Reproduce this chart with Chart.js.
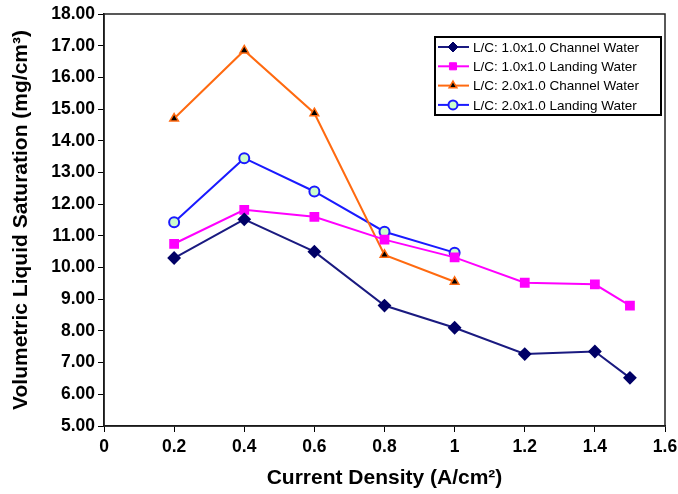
<!DOCTYPE html>
<html>
<head>
<meta charset="utf-8">
<script src="https://cdn.jsdelivr.net/npm/chart.js@4"></script>
<style>
  body { margin: 0; background: #fff; }
  #wrap { width: 678px; height: 494px; }
</style>
</head>
<body>
<div id="wrap"><canvas id="chart" width="678" height="494"></canvas></div>
<script>
// data
const currentDensity = [0.2, 0.4, 0.6, 0.8, 1.0, 1.2, 1.4, 1.5];
const channel1x1 = [10.30, 11.52, 10.50, 8.80, 8.10, 7.27, 7.35, 6.52];
const landing1x1 = [10.75, 11.82, 11.60, 10.88, 10.32, 9.52, 9.47, 8.80];
const channel2x1 = [14.70, 16.85, 14.87, 10.40, 9.55];
const landing2x1 = [11.43, 13.45, 12.40, 11.13, 10.47];
const seriesNames = [
    'L/C: 1.0x1.0 Channel Water',
    'L/C: 1.0x1.0 Landing Water',
    'L/C: 2.0x1.0 Channel Water',
    'L/C: 2.0x1.0 Landing Water',
];

function toPoints(xs, ys) {
    return ys.map((y, i) => ({ x: xs[i], y: y }));
}

const datasets = [
    {
        label: seriesNames[0],
        data: toPoints(currentDensity, channel1x1),
        borderColor: '#1a1a80',
        backgroundColor: '#000066',
        pointBackgroundColor: '#000066',
        pointBorderColor: '#000066',
        pointStyle: 'rectRot',
        pointRadius: 5.5,
        borderWidth: 2,
    },
    {
        label: seriesNames[1],
        data: toPoints(currentDensity, landing1x1),
        borderColor: '#ff00ff',
        backgroundColor: '#ff00ff',
        pointBackgroundColor: '#ff00ff',
        pointBorderColor: '#ff00ff',
        pointStyle: 'rect',
        pointRadius: 5.5,
        borderWidth: 2,
    },
    {
        label: seriesNames[2],
        data: toPoints(currentDensity, channel2x1),
        borderColor: '#ff6a10',
        backgroundColor: '#ff6a10',
        pointBackgroundColor: '#000000',
        pointBorderColor: '#ff6a10',
        pointBorderWidth: 1.5,
        pointStyle: 'triangle',
        pointRadius: 5,
        borderWidth: 2,
    },
    {
        label: seriesNames[3],
        data: toPoints(currentDensity, landing2x1),
        borderColor: '#1a1aff',
        backgroundColor: '#1a1aff',
        pointBackgroundColor: '#ccffcc',
        pointBorderColor: '#1a1aff',
        pointBorderWidth: 2,
        pointStyle: 'circle',
        pointRadius: 5,
        borderWidth: 2,
    },
];

// frame round the plot area
const frame = {
    id: 'frame',
    afterDraw(chart) {
        const a = chart.chartArea;
        const ctx = chart.ctx;
        ctx.save();
        ctx.strokeStyle = '#222';
        ctx.lineWidth = 1.5;
        ctx.strokeRect(a.left, a.top, a.right - a.left, a.bottom - a.top);
        ctx.restore();
    }
};

// boxed legend inside the plot, top right
const boxLegend = {
    id: 'boxLegend',
    afterDraw(chart) {
        const ctx = chart.ctx;
        const x0 = 435, y0 = 37, w = 226, h = 78;
        ctx.save();
        ctx.fillStyle = '#fff';
        ctx.fillRect(x0, y0, w, h);
        ctx.strokeStyle = '#000';
        ctx.lineWidth = 2;
        ctx.strokeRect(x0, y0, w, h);
        ctx.font = '13.5px "Liberation Sans", Arial, sans-serif';
        ctx.textBaseline = 'middle';
        chart.data.datasets.forEach((ds, i) => {
            const y = y0 + 10 + i * 19.3;
            ctx.strokeStyle = ds.borderColor;
            ctx.lineWidth = 2;
            ctx.beginPath();
            ctx.moveTo(x0 + 3, y);
            ctx.lineTo(x0 + 34, y);
            ctx.stroke();
            ctx.fillStyle = ds.pointBackgroundColor;
            ctx.strokeStyle = ds.pointBorderColor;
            ctx.lineWidth = ds.pointBorderWidth || 1;
            Chart.helpers.drawPoint(ctx, { pointStyle: ds.pointStyle, radius: ds.pointRadius - 0.5, borderWidth: ds.pointBorderWidth || 1 }, x0 + 18, y);
            ctx.fillStyle = '#000';
            ctx.fillText(ds.label, x0 + 38, y + 1);
        });
        ctx.restore();
    }
};

const tickFont = { family: '"Liberation Sans", Arial, sans-serif', size: 17.5, weight: 'bold' };
const titleFont = { family: '"Liberation Sans", Arial, sans-serif', size: 21, weight: 'bold' };

new Chart(document.getElementById('chart'), {
    type: 'line',
    data: { datasets: datasets },
    options: {
        responsive: false,
        animation: false,
        layout: { padding: { top: 14, right: 13, left: 0, bottom: 0 } },
        plugins: {
            legend: { display: false },
            tooltip: { enabled: false },
        },
        scales: {
            x: {
                type: 'linear',
                min: 0,
                max: 1.6,
                afterFit: (scale) => {
                    scale.height = 68;
                    scale.paddingRight = 0;
                    scale.paddingLeft = 0;
                },
                ticks: {
                    stepSize: 0.2,
                    color: '#000',
                    font: tickFont,
                    padding: 5,
                    maxRotation: 0,
                    callback: (v) => Number(v.toFixed(1)).toString(),
                },
                grid: { drawOnChartArea: false, tickLength: 6, color: '#000' },
                border: { color: '#000', width: 1.5 },
                title: {
                    display: true,
                    text: 'Current Density (A/cm²)',
                    color: '#000',
                    font: titleFont,
                    padding: { top: 0, bottom: 3 },
                },
            },
            y: {
                min: 5,
                max: 18,
                afterFit: (scale) => { scale.width = 104; },
                ticks: {
                    stepSize: 1,
                    color: '#000',
                    font: tickFont,
                    padding: 3,
                    callback: (v) => v.toFixed(2),
                },
                grid: { drawOnChartArea: false, tickLength: 6, color: '#000' },
                border: { color: '#000', width: 1.5 },
                title: {
                    display: true,
                    text: 'Volumetric Liquid Saturation (mg/cm³)',
                    color: '#000',
                    font: titleFont,
                    padding: { top: 9, bottom: 0 },
                },
            },
        },
    },
    plugins: [frame, boxLegend],
});
</script>
</body>
</html>
